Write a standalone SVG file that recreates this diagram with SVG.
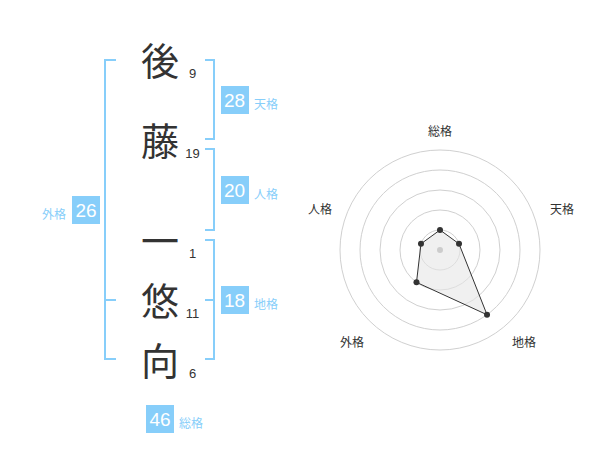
<svg xmlns="http://www.w3.org/2000/svg" width="600" height="470" viewBox="0 0 600 470">
<style>
.ch{font-family:"Noto Sans CJK JP","Noto Sans CJK SC",sans-serif;font-size:38px;fill:#333;text-anchor:middle}
.num{font-family:"Liberation Sans",Arial,sans-serif;font-size:13px;fill:#333;text-anchor:middle}
.br{fill:none;stroke:#87CEFA;stroke-width:2}
.box{fill:#87CEFA}
.bt{font-family:"Liberation Sans",Arial,sans-serif;font-size:19px;fill:#fff;text-anchor:middle}
.bl{font-family:"Noto Sans CJK JP","Noto Sans CJK SC",sans-serif;font-size:12px;fill:#87CEFA}
.ring{fill:none;stroke:#d0d0d0;stroke-width:1}
.rl{font-family:"Noto Sans CJK JP","Noto Sans CJK SC",sans-serif;font-size:12px;fill:#333;text-anchor:middle}
.dot{fill:#333}
</style>
<rect width="600" height="470" fill="#fff"/>
<g id="name">
  <g id="c1"><text class="ch" x="160" y="75">後</text><text class="num" x="192.5" y="78">9</text></g>
  <g id="c2"><text class="ch" x="160" y="155">藤</text><text class="num" x="192.5" y="158">19</text></g>
  <g id="c3"><text class="ch" x="160" y="255">一</text><text class="num" x="192.5" y="258">1</text></g>
  <g id="c4"><text class="ch" x="160" y="315">悠</text><text class="num" x="192.5" y="318">11</text></g>
  <g id="c5"><text class="ch" x="160" y="375">向</text><text class="num" x="192.5" y="378">6</text></g>
</g>
<g id="connectors">
  <path class="br" d="M116,60 H105 V359 H116 M105,300 H116"/>
  <path class="br" d="M205,60 H214 V139 H205"/>
  <path class="br" d="M205,149 H214 V230 H205"/>
  <path class="br" d="M205,240 H214 V359 H205 M205,300 H214"/>
</g>
<g id="tenkaku"><rect class="box" x="221" y="86" width="28" height="28"/><text class="bt" x="234.5" y="107">28</text><text class="bl" x="254" y="109">天格</text></g>
<g id="jinkaku"><rect class="box" x="221" y="176" width="28" height="28"/><text class="bt" x="234.5" y="197">20</text><text class="bl" x="254" y="199">人格</text></g>
<g id="chikaku"><rect class="box" x="221" y="286" width="28" height="28"/><text class="bt" x="234.5" y="307">18</text><text class="bl" x="254" y="309">地格</text></g>
<g id="gaikaku"><rect class="box" x="72" y="196" width="28" height="28"/><text class="bt" x="86" y="217">26</text><text class="bl" x="66" y="219" text-anchor="end">外格</text></g>
<g id="soukaku"><rect class="box" x="146" y="405" width="28" height="28"/><text class="bt" x="160" y="426">46</text><text class="bl" x="179" y="428">総格</text></g>
<g id="radar">
  <circle class="ring" cx="440" cy="250" r="20"/>
  <circle class="ring" cx="440" cy="250" r="40"/>
  <circle class="ring" cx="440" cy="250" r="60"/>
  <circle class="ring" cx="440" cy="250" r="80"/>
  <circle class="ring" cx="440" cy="250" r="100"/>
  <polygon points="440,230 459.02,243.82 487.02,314.72 416.49,282.36 420.98,243.82" fill="#e6e6e6" fill-opacity="0.6" stroke="#333" stroke-width="1"/>
  <circle cx="440" cy="250" r="3" fill="#ccc"/>
  <circle class="dot" cx="440" cy="230" r="3"/>
  <circle class="dot" cx="459.02" cy="243.82" r="3"/>
  <circle class="dot" cx="487.02" cy="314.72" r="3"/>
  <circle class="dot" cx="416.49" cy="282.36" r="3"/>
  <circle class="dot" cx="420.98" cy="243.82" r="3"/>
  <text class="rl" x="440" y="136">総格</text>
  <text class="rl" x="562" y="214">天格</text>
  <text class="rl" x="320" y="214">人格</text>
  <text class="rl" x="352" y="347">外格</text>
  <text class="rl" x="524" y="347">地格</text>
</g>
</svg>
